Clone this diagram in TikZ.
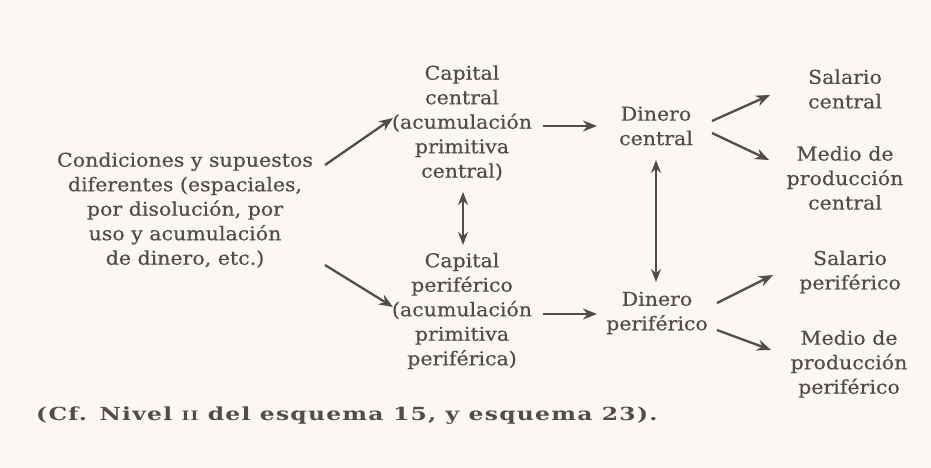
\documentclass[tikz,border=0pt]{standalone}
\usepackage{fontspec}
\setmainfont{DejaVu Serif}
\newfontfamily\bodyfont[FakeStretch=1.08,FakeBold=0.5]{DejaVu Serif}
\newfontfamily\capfont[FakeStretch=1.3,LetterSpace=7]{DejaVu Serif}
\usetikzlibrary{arrows.meta}
\definecolor{ink}{HTML}{4E4E4E}
\definecolor{paper}{HTML}{FBF7F4}
\begin{document}
\begin{tikzpicture}[x=1pt, y=-1pt,
  txt/.style={align=center, inner sep=0pt, text=ink, font=\bodyfont\fontsize{19}{24.5}\selectfont},
  arr/.style={draw=ink, line width=2.3pt, -{Stealth[length=14pt,width=11pt]}},
  dbl/.style={draw=ink, line width=2.3pt, {Stealth[length=13pt,width=10pt]}-{Stealth[length=13pt,width=10pt]}}]
\fill[paper] (0,0) rectangle (931,468);
\node[txt] (cond) at (185,210) {Condiciones y supuestos\\diferentes (espaciales,\\por disolución, por\\uso y acumulación\\de dinero, etc.)};
\node[txt] (capc) at (462,123) {Capital\\central\\(acumulación\\primitiva\\central)};
\node[txt] (capp) at (462,311) {Capital\\periférico\\(acumulación\\primitiva\\periférica)};
\node[txt] (dinc) at (656,126) {Dinero\\central};
\node[txt] (dinp) at (657,313) {Dinero\\periférico};
\node[txt] (salc) at (845,89) {Salario\\central};
\node[txt] (medc) at (845,178) {Medio de\\producción\\central};
\node[txt] (salp) at (850,272) {Salario\\periférico};
\node[txt] (medp) at (849,364) {Medio de\\producción\\periférico};
\node[txt, anchor=base west, font=\capfont\fontsize{18}{20}\bfseries] (cf) at (36,420) {(Cf. Nivel {\fontsize{13}{13}\selectfont II} del esquema 15, y esquema 23).};
% flechas
\draw[arr] ([shift={(140,-45)}]cond.center) -- ([shift={(-69,-5)}]capc.center);
\draw[arr] ([shift={(140,55)}]cond.center) -- ([shift={(-69,-4)}]capp.center);
\draw[arr] ([shift={(81,3)}]capc.center) -- ([shift={(-59,0)}]dinc.center);
\draw[arr] ([shift={(81,3)}]capp.center) -- ([shift={(-60,1)}]dinp.center);
\draw[dbl] ([shift={(1,69)}]capc.center) -- ([shift={(1,-66)}]capp.center);
\draw[dbl] ([shift={(0,34)}]dinc.center) -- ([shift={(-1,-31)}]dinp.center);
\draw[arr] ([shift={(56,-5)}]dinc.center) -- ([shift={(-75,6)}]salc.center);
\draw[arr] ([shift={(56,7)}]dinc.center) -- ([shift={(-76,-18)}]medc.center);
\draw[arr] ([shift={(60,-10)}]dinp.center) -- ([shift={(-77,3)}]salp.center);
\draw[arr] ([shift={(60,17)}]dinp.center) -- ([shift={(-78,-14)}]medp.center);
\end{tikzpicture}
\end{document}
